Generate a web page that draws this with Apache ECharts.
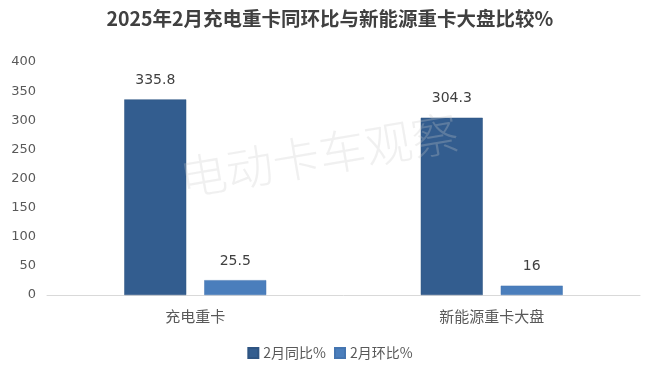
<!DOCTYPE html>
<html><head><meta charset="utf-8">
<script src="https://cdn.jsdelivr.net/npm/echarts@6/dist/echarts.min.js"></script>
<style>html,body{margin:0;padding:0;background:#fff}#c{width:660px;height:377px}</style>
</head><body><div id="c"></div>
<script>
const categories = ['充电重卡', '新能源重卡大盘'];
const seriesNames = ['2月同比%', '2月环比%'];
const yoy = [335.8, 304.3];
const mom = [25.5, 16];
const yTicks = [0, 50, 100, 150, 200, 250, 300, 350, 400];

const FONT = '"Noto Sans CJK SC", "Noto Sans", sans-serif';
const NUMFONT = '"DejaVu Sans", "Noto Sans CJK SC", sans-serif';
const chart = echarts.init(document.getElementById('c'), null, {renderer: 'canvas'});
chart.setOption({
  animation: false,
  backgroundColor: '#fff',
  title: {
    text: '2025年2月充电重卡同环比与新能源重卡大盘比较%',
    left: 'center', top: 4,
    textStyle: {fontFamily: FONT, fontSize: 19.5, fontWeight: 'bold', color: '#404040'}
  },
  graphic: [{
    type: 'text', left: 176, top: 108, rotation: 0.17, z: 100,
    style: {text: '电动卡车观察', font: '300 47px ' + FONT, fill: 'rgba(200,200,200,0.28)'}
  }],
  legend: {
    bottom: 12, left: 'center', itemWidth: 10, itemHeight: 10, itemGap: 8,
    icon: 'rect',
    textStyle: {fontFamily: FONT, fontSize: 14, color: '#595959'},
    data: seriesNames
  },
  grid: {left: 47, right: 20, top: 62, bottom: 82},
  xAxis: {
    type: 'category', data: categories,
    axisLine: {lineStyle: {color: '#d9d9d9', width: 1}},
    axisTick: {show: false},
    axisLabel: {fontFamily: FONT, fontSize: 15, color: '#595959', margin: 14}
  },
  yAxis: {
    type: 'value', min: yTicks[0], max: yTicks[yTicks.length - 1], interval: 50,
    splitLine: {show: false},
    axisLine: {show: false}, axisTick: {show: false},
    axisLabel: {fontFamily: NUMFONT, fontSize: 13, color: '#595959', margin: 11}
  },
  series: [
    {name: seriesNames[0], type: 'bar', data: yoy, barWidth: 62, barGap: '29%',
     itemStyle: {color: '#335D8F', borderColor: '#2E5482', borderWidth: 0.5},
     label: {show: true, position: 'top', distance: 12, fontFamily: NUMFONT, fontSize: 14, color: '#404040'}},
    {name: seriesNames[1], type: 'bar', data: mom, barWidth: 62,
     itemStyle: {color: '#4A7EBC', borderColor: '#4575B0', borderWidth: 0.5},
     label: {show: true, position: 'top', distance: 12, fontFamily: NUMFONT, fontSize: 14, color: '#404040'}}
  ]
});
</script></body></html>
